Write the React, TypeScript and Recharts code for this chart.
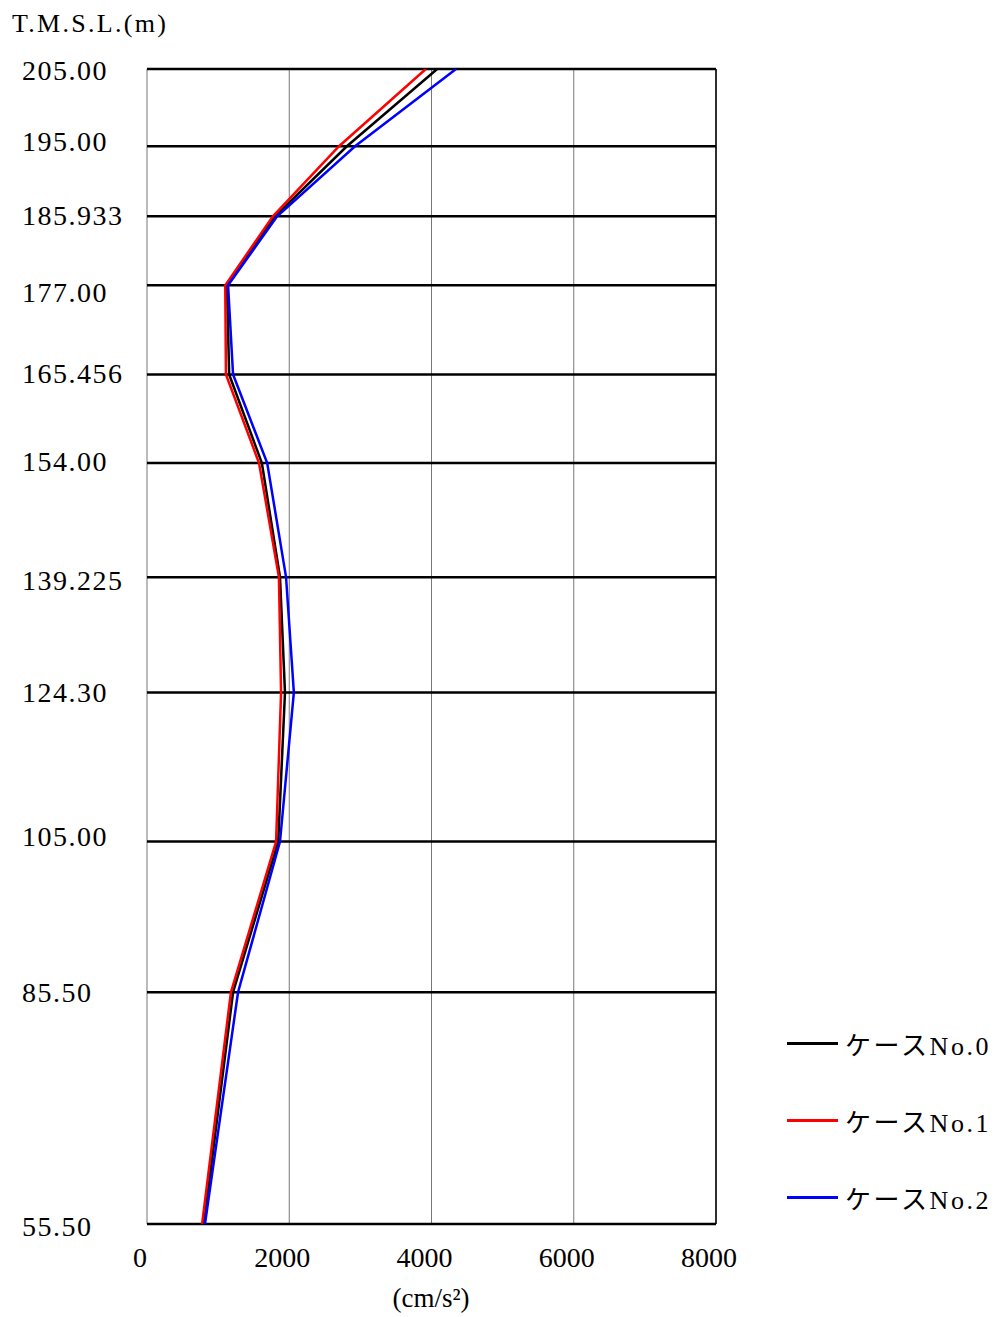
import React from "react";
import {
  LineChart,
  Line,
  XAxis,
  YAxis,
  CartesianGrid,
  ReferenceLine,
} from "recharts";

const elevations = [205, 195, 185.933, 177, 165.456, 154, 139.225, 124.3, 105, 85.5, 55.5];
const elevationLabels = ["205.00", "195.00", "185.933", "177.00", "165.456", "154.00", "139.225", "124.30", "105.00", "85.50", "55.50"];
const accelTicks = [0, 2000, 4000, 6000, 8000];

const case0 = [4080, 2810, 1800, 1125, 1155, 1615, 1870, 1940, 1845, 1210, 800];
const case1 = [3920, 2700, 1770, 1100, 1110, 1575, 1855, 1885, 1815, 1180, 775];
const case2 = [4345, 2925, 1830, 1140, 1210, 1690, 1955, 2065, 1870, 1280, 815];

const series = [
  { name: "ケースNo.0", values: case0, color: "#000000" },
  { name: "ケースNo.1", values: case1, color: "#ff0000" },
  { name: "ケースNo.2", values: case2, color: "#0000ff" },
];

// the original labels sit slightly off their lines
const labelNudge = [2, -4, 0, 8, 0, -1, 4, 1, -4, 1, 3];

const FONT = "'Liberation Serif', 'Noto Sans CJK JP', serif";

const W = 990;
const H = 1309;

function YTick(props: any) {
  const { y, payload } = props;
  const i = elevations.indexOf(payload.value);
  return (
    <text x={14} y={y - 1 + (i >= 0 ? labelNudge[i] : 0)} dominantBaseline="central" textAnchor="start"
      fontSize={28} fontFamily={FONT} letterSpacing={1.5} fill="#000">
      {i >= 0 ? elevationLabels[i] : payload.value}
    </text>
  );
}

function XTick(props: any) {
  const { x, payload } = props;
  return (
    <text x={x - 7} y={1249} dominantBaseline="central" textAnchor="middle"
      fontSize={28} fontFamily={FONT} fill="#000">
      {payload.value}
    </text>
  );
}

export default function App() {
  return (
    <div style={{ position: "relative", width: W, height: H }}>
      <LineChart width={W} height={H} margin={{ top: 61, left: 0, right: W - 708, bottom: 0 }}>
        <CartesianGrid horizontal={false} vertical stroke="#777" strokeWidth={1} />
        <XAxis type="number" dataKey="x" domain={[0, 8000]} ticks={accelTicks}
          axisLine={false} tickLine={false} tickSize={0} tickMargin={0} height={H - 1216}
          tick={<XTick />} interval={0} allowDataOverflow />
        <YAxis type="number" dataKey="elev" domain={[55.5, 205]} ticks={elevations}
          axisLine={false} tickLine={false} tickSize={0} tickMargin={0} width={139}
          tick={<YTick />} interval={0} allowDataOverflow />
        {elevations.map((e) => (
          <ReferenceLine key={e} y={e} stroke="#000" strokeWidth={2.5} />
        ))}
        <ReferenceLine x={8000} stroke="#000" strokeWidth={1.5} />
        {series.map((s) => (
          <Line key={s.name} name={s.name}
            data={s.values.map((v, i) => ({ x: v, elev: elevations[i] }))}
            dataKey="elev" stroke={s.color} strokeWidth={2.5} dot={false}
            isAnimationActive={false} />
        ))}
      </LineChart>
      <div style={{ position: "absolute", left: 4, top: 1, fontFamily: FONT, fontSize: 26, letterSpacing: 2.3, color: "#000" }}>
        T.M.S.L.(m)
      </div>
      <div style={{ position: "absolute", left: 423, top: 1275, transform: "translateX(-50%)", fontFamily: FONT, fontSize: 27, color: "#000", whiteSpace: "nowrap" }}>
        (cm/s²)
      </div>
      <div style={{ position: "absolute", left: 779, top: 1020, display: "flex", flexDirection: "column", gap: 47 }}>
        {series.map((s) => (
          <div key={s.name} style={{ display: "flex", alignItems: "center", height: 30 }}>
            <div style={{ width: 51, height: 3, background: s.color, marginRight: 7 }} />
            <span style={{ fontFamily: FONT, fontSize: 26, letterSpacing: 2.6, color: "#000" }}>{s.name}</span>
          </div>
        ))}
      </div>
    </div>
  );
}
